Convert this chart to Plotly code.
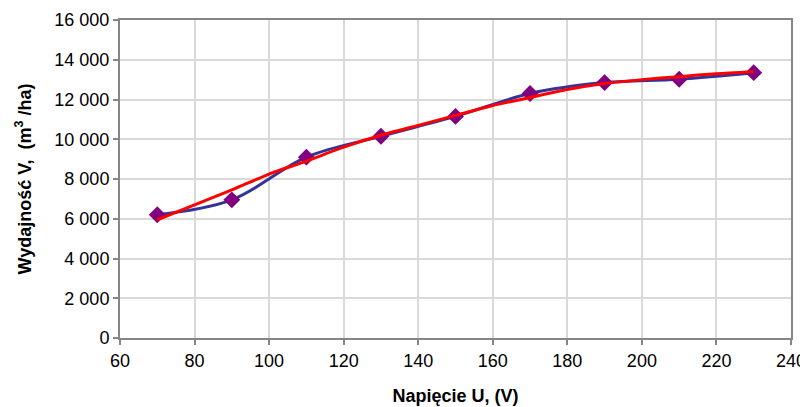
import plotly.graph_objects as go

# Measured data (blue smoothed line with diamond markers)
voltage = [70, 90, 110, 130, 150, 170, 190, 210, 230]
yield_v = [6200, 6950, 9100, 10150, 11150, 12300, 12850, 13020, 13350]

# Trend line (red)
trend_u = [70, 80, 90, 100, 110, 120, 130, 140, 150, 160, 170, 180, 190, 200, 210, 220, 230]
trend_v = [5950, 6700, 7450, 8250, 8900, 9600, 10200, 10700, 11200, 11700, 12100,
           12500, 12800, 13000, 13150, 13300, 13400]

x_ticks = [60, 80, 100, 120, 140, 160, 180, 200, 220, 240]
x_tick_labels = ["60", "80", "100", "120", "140", "160", "180", "200", "220", "240"]
y_ticks = [0, 2000, 4000, 6000, 8000, 10000, 12000, 14000, 16000]
y_tick_labels = ["0", "2 000", "4 000", "6 000", "8 000", "10 000", "12 000", "14 000", "16 000"]

fig = go.Figure()
fig.add_trace(go.Scatter(
    x=voltage, y=yield_v, mode="lines+markers",
    line=dict(color="#333399", width=3, shape="spline", smoothing=1.0),
    marker=dict(symbol="diamond", size=13, color="#800080"),
    showlegend=False, hoverinfo="skip"))
fig.add_trace(go.Scatter(
    x=trend_u, y=trend_v, mode="lines",
    line=dict(color="#FF0000", width=3, shape="spline", smoothing=0.6),
    showlegend=False, hoverinfo="skip"))

font_family = "Liberation Sans, Arial, sans-serif"
# The page body has an 8px default margin, so the figure is 8px smaller
fig.update_layout(
    width=800, height=399,
    margin=dict(l=112, r=17, t=12, b=69),
    paper_bgcolor="white", plot_bgcolor="white",
    font=dict(family=font_family, size=18, color="black"),
    xaxis=dict(
        range=[60, 240], tickvals=x_ticks, ticktext=x_tick_labels,
        showgrid=True, gridcolor="#D9D9D9", gridwidth=1.5,
        showline=True, linecolor="#868686", linewidth=2, mirror=True,
        ticks="outside", ticklen=5, tickcolor="#868686", tickwidth=2,
        zeroline=False, tickfont=dict(size=18), automargin=False,
        title=dict(text="<b>Napięcie U, (V)</b>", font=dict(size=18), standoff=20),
    ),
    yaxis=dict(
        range=[0, 16000], tickvals=y_ticks, ticktext=y_tick_labels,
        showgrid=True, gridcolor="#D9D9D9", gridwidth=1.5,
        showline=True, linecolor="#868686", linewidth=2, mirror=True,
        ticks="outside", ticklen=5, tickcolor="#868686", tickwidth=2,
        zeroline=False, tickfont=dict(size=18), automargin=False,
        title=dict(text="<b>Wydajność V,  (m<sup>3</sup> /ha)</b>", font=dict(size=18), standoff=18),
    ),
)

fig.write_html("out.html")
